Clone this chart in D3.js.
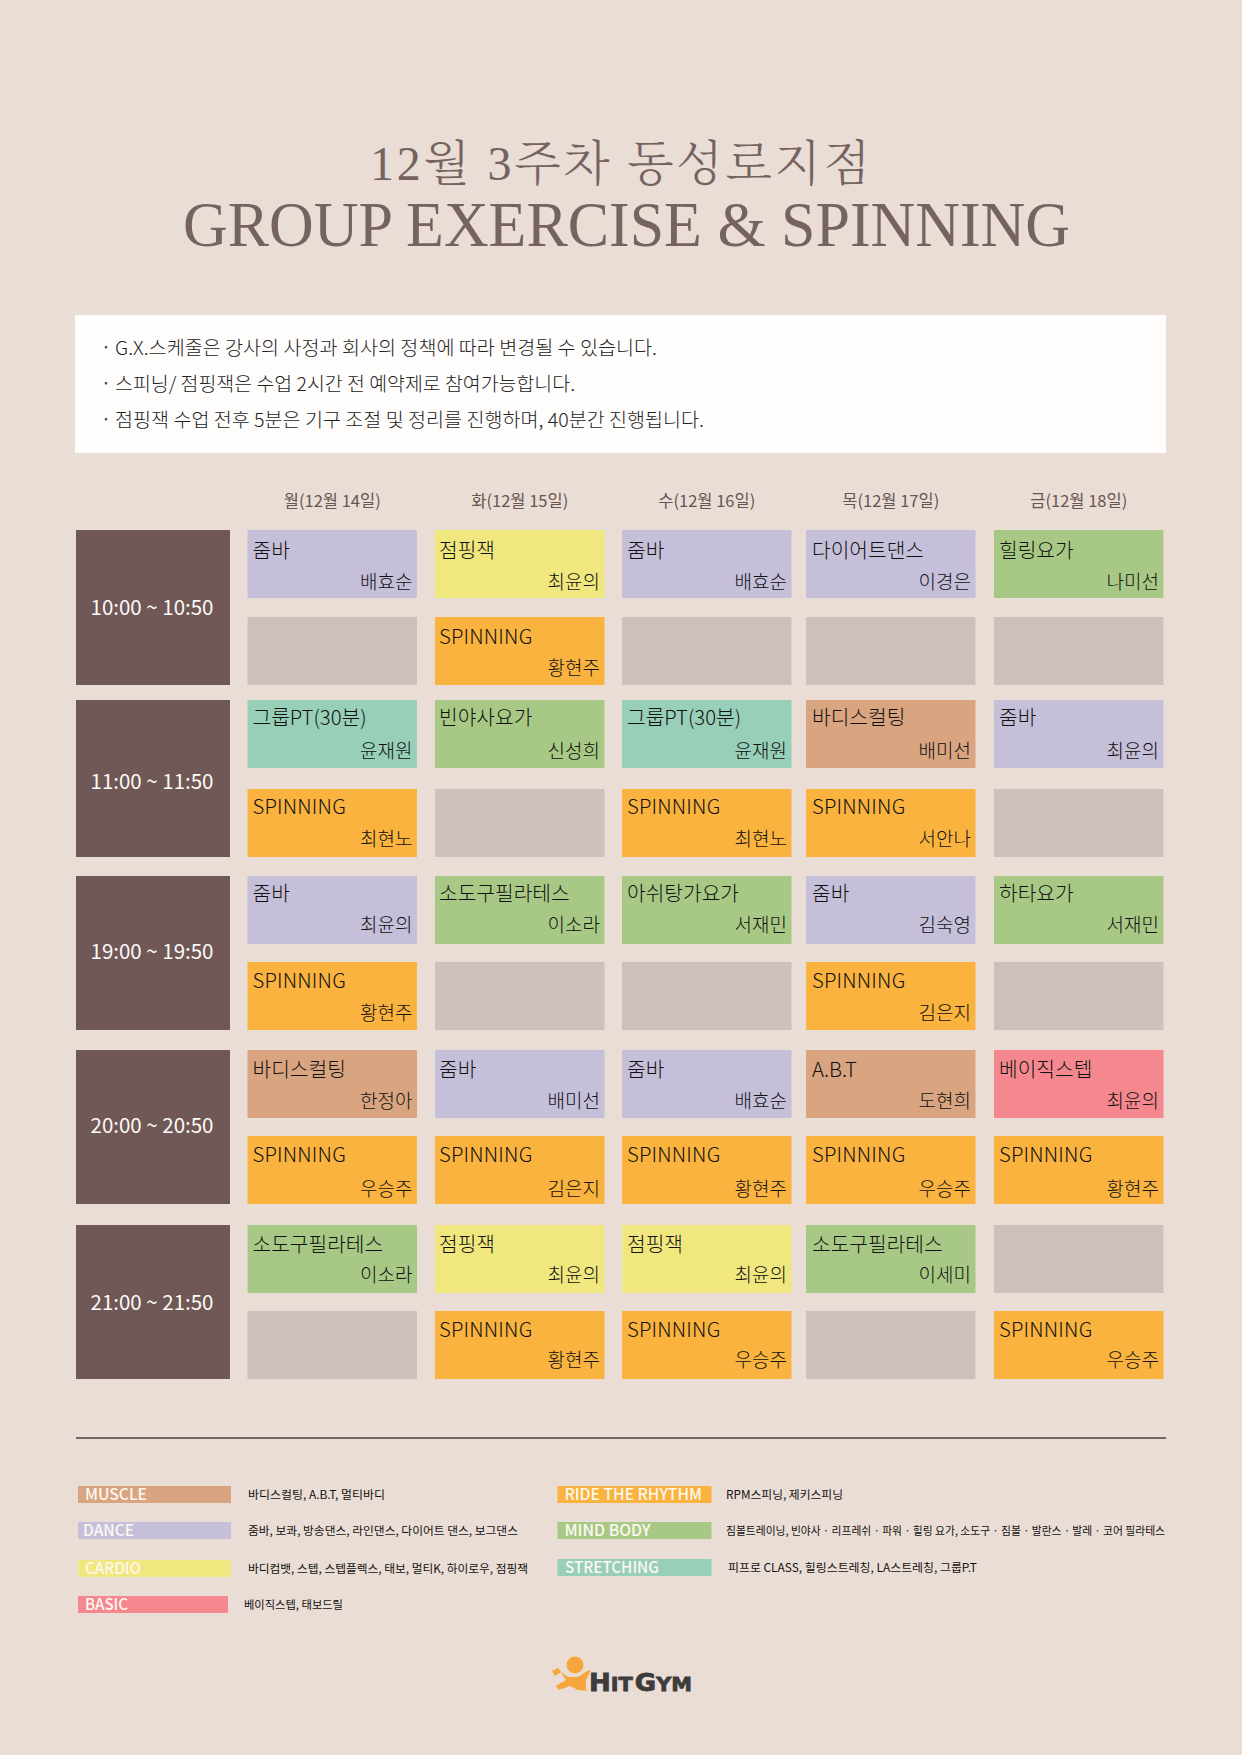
<!DOCTYPE html>
<html>
<head>
<meta charset="utf-8">
<script src="https://cdn.jsdelivr.net/npm/d3@7"></script>
<style>
  html, body { margin: 0; padding: 0; background: #eaddd5; }
  svg { display: block; }
  text { font-family: "Noto Sans CJK KR", "Noto Sans", sans-serif; }
</style>
</head>
<body>
<div id="chart"></div>
<script>
// chart values
const titleKo = "12월 3주차 동성로지점";
const titleEn = "GROUP EXERCISE & SPINNING";
const notes = [
  "G.X.스케줄은 강사의 사정과 회사의 정책에 따라 변경될 수 있습니다.",
  "스피닝/ 점핑잭은 수업 2시간 전 예약제로 참여가능합니다.",
  "점핑잭 수업 전후 5분은 기구 조절 및 정리를 진행하며, 40분간 진행됩니다."
];
const days = ["월(12월 14일)", "화(12월 15일)", "수(12월 16일)", "목(12월 17일)", "금(12월 18일)"];
const times = ["10:00 ~ 10:50", "11:00 ~ 11:50", "19:00 ~ 19:50", "20:00 ~ 20:50", "21:00 ~ 21:50"];

// two rows of classes per time slot, one entry per day ("" = empty)
const classes = [
  ["줌바", "점핑잭", "줌바", "다이어트댄스", "힐링요가"],
  ["", "SPINNING", "", "", ""],
  ["그룹PT(30분)", "빈야사요가", "그룹PT(30분)", "바디스컬팅", "줌바"],
  ["SPINNING", "", "SPINNING", "SPINNING", ""],
  ["줌바", "소도구필라테스", "아쉬탕가요가", "줌바", "하타요가"],
  ["SPINNING", "", "", "SPINNING", ""],
  ["바디스컬팅", "줌바", "줌바", "A.B.T", "베이직스텝"],
  ["SPINNING", "SPINNING", "SPINNING", "SPINNING", "SPINNING"],
  ["소도구필라테스", "점핑잭", "점핑잭", "소도구필라테스", ""],
  ["", "SPINNING", "SPINNING", "", "SPINNING"]
];
const teachers = [
  ["배효순", "최윤의", "배효순", "이경은", "나미선"],
  ["", "황현주", "", "", ""],
  ["윤재원", "신성희", "윤재원", "배미선", "최윤의"],
  ["최현노", "", "최현노", "서안나", ""],
  ["최윤의", "이소라", "서재민", "김숙영", "서재민"],
  ["황현주", "", "", "김은지", ""],
  ["한정아", "배미선", "배효순", "도현희", "최윤의"],
  ["우승주", "김은지", "황현주", "우승주", "황현주"],
  ["이소라", "최윤의", "최윤의", "이세미", ""],
  ["", "황현주", "우승주", "", "우승주"]
];

const categories = ["MUSCLE", "DANCE", "CARDIO", "BASIC", "RIDE THE RHYTHM", "MIND BODY", "STRETCHING"];
const categoryText = [
  "바디스컬팅, A.B.T, 멀티바디",
  "줌바, 보콰, 방송댄스, 라인댄스, 다이어트 댄스, 보그댄스",
  "바디컴뱃, 스텝, 스텝플렉스, 태보, 멀티K, 하이로우, 점핑잭",
  "베이직스텝, 태보드릴",
  "RPM스피닝, 제키스피닝",
  "짐볼트레이닝, 빈야사 · 리프레쉬 · 파워 · 힐링 요가, 소도구 · 짐볼 · 발란스 · 발레 · 코어 필라테스",
  "피프로 CLASS, 힐링스트레칭, LA스트레칭, 그룹P.T"
];
const classCategory = {
  "줌바": "DANCE", "다이어트댄스": "DANCE", "점핑잭": "CARDIO", "베이직스텝": "BASIC",
  "힐링요가": "MIND BODY", "빈야사요가": "MIND BODY", "소도구필라테스": "MIND BODY",
  "아쉬탕가요가": "MIND BODY", "하타요가": "MIND BODY", "SPINNING": "RIDE THE RHYTHM",
  "그룹PT(30분)": "STRETCHING", "바디스컬팅": "MUSCLE", "A.B.T": "MUSCLE"
};

// page layout
const W = 1242, H = 1755;
const colLeft = [247.5, 435, 622, 806, 994];
const rowTop = [530, 617, 700, 789, 876, 962, 1050, 1136, 1225, 1311];
const cellW = 169.5, cellH = 68;
// small per row / per column nudges of the cell labels
const nameDy = [1, 0, -2, -2, -2, -1, 0, -1, 0, -1];
const teacherDy = [1, 0, 0, -1, -2, 0, 0, 2, -1, -2];
const nameDx = [5, 4, 5, 6, 5];
const timeDy = [0, 3, -1, -1, 1];

const svg = d3.select("#chart").append("svg").attr("width", W).attr("height", H);
svg.append("rect").attr("width", W).attr("height", H).attr("fill", "#eaddd5");

const x = d3.scaleOrdinal().domain(d3.range(days.length)).range(colLeft);
const y = d3.scaleOrdinal().domain(d3.range(classes.length)).range(rowTop);
const color = d3.scaleOrdinal()
  .domain(categories)
  .range(["#d8a580", "#c6bfd9", "#f0e87f", "#f4888e", "#fab33f", "#a8c985", "#98cfb9"]);

// titles
svg.append("text").text(titleKo)
  .attr("x", 620).attr("y", 180)
  .attr("text-anchor", "middle")
  .attr("textLength", 500).attr("lengthAdjust", "spacing")
  .style("font-family", '"Liberation Serif","Noto Serif CJK KR","Noto Sans CJK KR"')
  .style("font-weight", 300)
  .style("font-size", "48px").attr("fill", "#76625e");
svg.append("text").text(titleEn)
  .attr("x", 626.5).attr("y", 246)
  .attr("text-anchor", "middle")
  .attr("textLength", 887).attr("lengthAdjust", "spacingAndGlyphs")
  .style("font-family", '"Liberation Serif"')
  .style("font-size", "63px").attr("fill", "#76625e");

// notes panel
svg.append("rect").attr("x", 75).attr("y", 315).attr("width", 1091).attr("height", 138).attr("fill", "#fefdfc");
const noteY = d3.scalePoint().domain(d3.range(notes.length)).range([348, 420]);
const noteEnd = [542, 460, 589];
notes.forEach((n, i) => {
  svg.append("text").text("·").attr("x", 101).attr("y", noteY(i)).attr("dy", "0.35em")
    .style("font-size", "18px").attr("fill", "#444");
  svg.append("text").text(n).attr("x", 115).attr("y", noteY(i)).attr("dy", "0.35em")
    .attr("textLength", noteEnd[i]).attr("lengthAdjust", "spacingAndGlyphs")
    .style("font-size", "19px").style("font-weight", 300).attr("fill", "#222");
});

// day headers
svg.append("g").selectAll("text").data(days).join("text")
  .text(d => d)
  .attr("x", (d, i) => x(i) + cellW / 2)
  .attr("y", 501).attr("dy", "0.35em")
  .attr("text-anchor", "middle")
  .style("font-size", "16.5px").attr("fill", "#665552");

// time boxes
const timeG = svg.append("g").selectAll("g").data(times).join("g");
timeG.append("rect")
  .attr("x", 76).attr("width", 154)
  .attr("y", (d, i) => y(i * 2))
  .attr("height", (d, i) => y(i * 2 + 1) + cellH - y(i * 2))
  .attr("fill", "#6f5856");
timeG.append("text").text(d => d)
  .attr("x", 152)
  .attr("y", (d, i) => (y(i * 2) + y(i * 2 + 1) + cellH) / 2 + timeDy[i])
  .attr("dy", "0.35em").attr("text-anchor", "middle")
  .style("font-size", "20.5px").attr("fill", "#fdfaf7");

// schedule cells
const cells = [];
classes.forEach((row, r) => row.forEach((c, d) => cells.push({r, d, name: c, teacher: teachers[r][d]})));

const cell = svg.append("g").selectAll("g").data(cells).join("g")
  .attr("transform", c => "translate(" + x(c.d) + "," + y(c.r) + ")");
cell.append("rect")
  .attr("width", cellW).attr("height", cellH)
  .attr("fill", c => c.name ? color(classCategory[c.name]) : "#cfbfba");
cell.append("text").text(c => c.name)
  .attr("x", c => nameDx[c.d]).attr("y", c => 27 + nameDy[c.r])
  .style("letter-spacing", c => c.name === "SPINNING" ? "0.2px" : null)
  .style("font-size", "20.3px").style("font-weight", 300).attr("fill", "#111");
cell.append("text").text(c => c.teacher)
  .attr("x", cellW - 4.5).attr("y", c => 58 + teacherDy[c.r])
  .attr("text-anchor", "end")
  .style("font-size", "19px").style("font-weight", 300).attr("fill", "#111");

// rule above the legend
svg.append("line").attr("x1", 76).attr("x2", 1166).attr("y1", 1438).attr("y2", 1438)
  .attr("stroke", "#45403e").attr("stroke-width", 1.5);

// legend, two columns
const legendX = [78, 78, 78, 78, 557.5, 557.5, 557.5];
const legendY = [1486, 1522, 1560, 1596, 1486, 1522, 1559];
const legendW = [153, 153, 153, 150, 154, 154, 154];
const labelX = [85, 83, 85, 85, 564.5, 564.5, 565];
const labelW = [62, 51, 56, 43, 137.5, 86, 94];
const descX = [248, 248, 248, 244, 726, 726, 728];
const descW = [137, 270, 280, 99, 117, 439, 249];

const legend = svg.append("g").selectAll("g").data(categories).join("g");
legend.append("rect")
  .attr("x", (d, i) => legendX[i]).attr("y", (d, i) => legendY[i])
  .attr("width", (d, i) => legendW[i]).attr("height", 17)
  .attr("fill", d => color(d));
legend.append("text").text(d => d)
  .attr("x", (d, i) => labelX[i]).attr("y", (d, i) => legendY[i] + 8.5)
  .attr("dy", "0.35em")
  .attr("textLength", (d, i) => labelW[i]).attr("lengthAdjust", "spacingAndGlyphs")
  .style("font-size", "15.5px").style("font-weight", 500).attr("fill", "#fdf8f0");
legend.append("text").text((d, i) => categoryText[i])
  .attr("x", (d, i) => descX[i]).attr("y", (d, i) => legendY[i] + 8.5)
  .attr("dy", "0.35em")
  .attr("textLength", (d, i) => descW[i]).attr("lengthAdjust", "spacingAndGlyphs")
  .style("font-size", "11.5px").attr("fill", "#111");

// logo
const logo = svg.append("g").attr("fill", "#f6a63a");
logo.append("circle").attr("cx", 575).attr("cy", 1665).attr("r", 8.5);
logo.append("path").attr("d", "M560,1671 L568,1677 L578,1677 L587,1671 L591,1670 L586,1680 L586,1690 L588,1691 L578,1690 L570,1686 L562,1689 L558,1685 L566,1680 Z");
logo.append("path").attr("d", "M552,1671 L558,1668 L561,1672 L555,1676 Z");
logo.append("path").attr("d", "M556,1686 L561,1683 L564,1687 L559,1690 Z");
const logoText = svg.append("text")
  .attr("x", 589).attr("y", 1691)
  .attr("textLength", 103).attr("lengthAdjust", "spacingAndGlyphs")
  .style("font-family", '"DejaVu Sans"').style("font-weight", 700)
  .attr("fill", "#3d3b3b").attr("stroke", "#3d3b3b").attr("stroke-width", 0.8);
logoText.append("tspan").text("H").style("font-size", "25px");
logoText.append("tspan").text("IT").style("font-size", "20px");
logoText.append("tspan").text("G").style("font-size", "25px").attr("dx", 2);
logoText.append("tspan").text("YM").style("font-size", "20px");
</script>
</body>
</html>
